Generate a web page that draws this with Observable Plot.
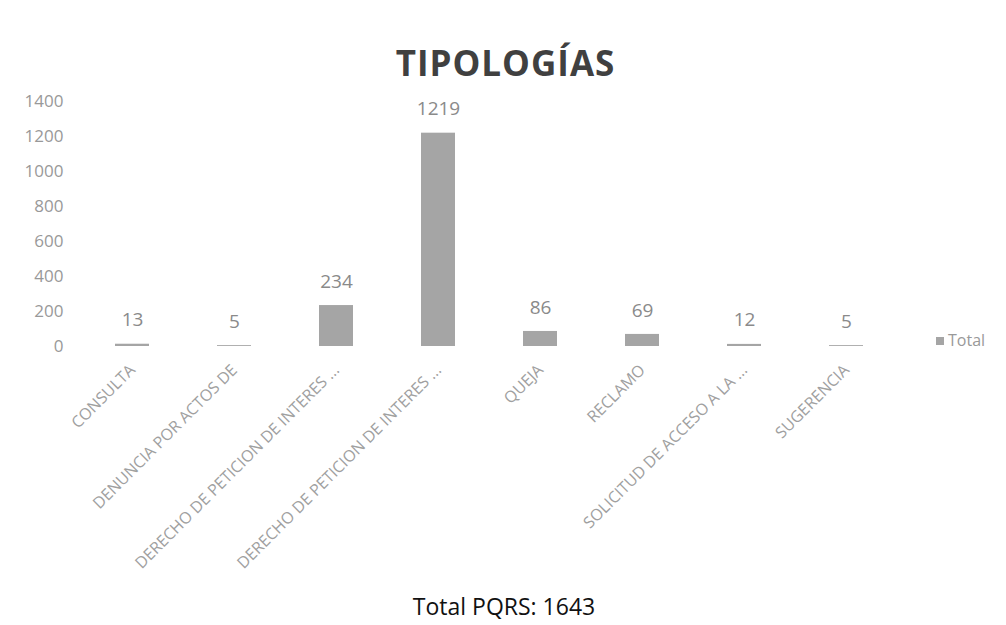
<!DOCTYPE html>
<html><head><meta charset="utf-8">
<script src="https://cdn.jsdelivr.net/npm/d3@7"></script>
<script src="https://cdn.jsdelivr.net/npm/@observablehq/plot@0.6"></script>
<style>
body{margin:0;background:#fff;}
#wrap{position:relative;width:1006px;height:625px;overflow:hidden;font-family:"Open Sans",sans-serif;background:#fff;}
#chart{position:absolute;left:0;top:0;}
#title{position:absolute;left:0;top:41px;width:1011px;text-align:center;font-size:35px;font-weight:700;color:#404040;line-height:44px;letter-spacing:1px;}
#legend{position:absolute;left:936px;top:330px;font-size:16px;color:#999;line-height:20px;}
#legend span.sw{display:inline-block;width:8px;height:8px;background:#a5a5a5;margin-right:4px;vertical-align:1px;}
#caption{position:absolute;left:0;top:591px;width:1008px;text-align:center;font-size:23px;color:#111;line-height:30px;}
</style></head><body>
<div id="wrap">
<div id="chart"></div>
<div id="title">TIPOLOGÍAS</div>
<div id="legend"><span class="sw"></span>Total</div>
<div id="caption">Total PQRS: 1643</div>
</div>
<script>
const categories = [
  "CONSULTA",
  "DENUNCIA POR ACTOS DE CORRUPCION",
  "DERECHO DE PETICION DE INTERES GENERAL",
  "DERECHO DE PETICION DE INTERES PARTICULAR",
  "QUEJA",
  "RECLAMO",
  "SOLICITUD DE ACCESO A LA INFORMACION",
  "SUGERENCIA"
];
const tickLabels = [
  "CONSULTA",
  "DENUNCIA POR ACTOS DE",
  "DERECHO DE PETICION DE INTERES ...",
  "DERECHO DE PETICION DE INTERES ...",
  "QUEJA",
  "RECLAMO",
  "SOLICITUD DE ACCESO A LA ...",
  "SUGERENCIA"
];
const values = [13, 5, 234, 1219, 86, 69, 12, 5];
const yTicks = [0, 200, 400, 600, 800, 1000, 1200, 1400];

const data = categories.map((c, i) => ({category: c, value: values[i]}));

const chart = Plot.plot({
  width: 1006,
  height: 625,
  marginTop: 101,
  marginBottom: 279,
  marginLeft: 80,
  marginRight: 109,
  style: {fontFamily: "Open Sans", background: "transparent"},
  x: {domain: categories, paddingInner: 0.67, paddingOuter: 0.335, label: null},
  y: {domain: [0, 1400], label: null},
  marks: [
    Plot.axisY({ticks: yTicks, tickFormat: d => String(d), tickSize: 0, tickPadding: 17, fontSize: 17, color: "#999", label: null}),
    Plot.axisX({tickSize: 0, tickPadding: 21, tickRotate: -45, fontSize: 16, color: "#a0a0a0", label: null,
      tickFormat: d => tickLabels[categories.indexOf(d)]}),
    Plot.barY(data, {x: "category", y: "value", fill: "#a5a5a5"}),
    Plot.text(data, {x: "category", y: "value", text: d => String(d.value), dy: -24, fontSize: 19, fill: "#8a8a8a"})
  ]
});
document.getElementById("chart").appendChild(chart);
</script>
</body></html>
